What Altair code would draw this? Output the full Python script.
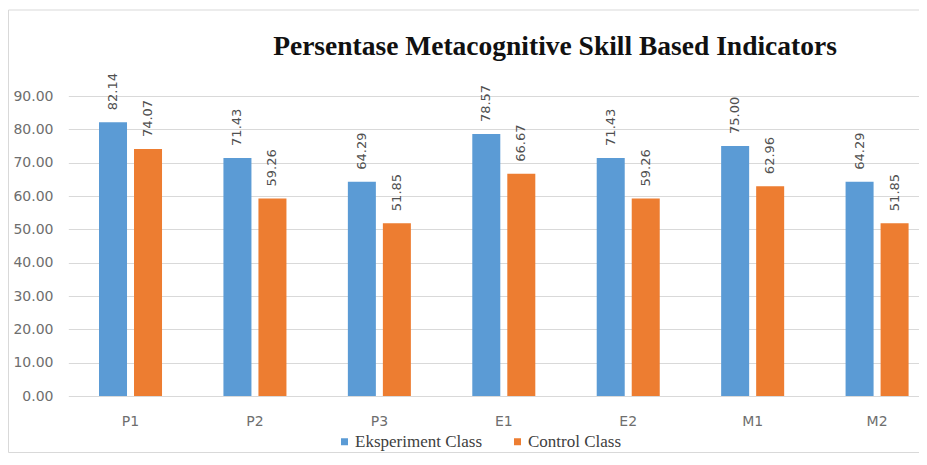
import altair as alt
import pandas as pd

categories = ["P1", "P2", "P3", "E1", "E2", "M1", "M2"]
series = ["Eksperiment Class", "Control Class"]
eksperiment = [82.14, 71.43, 64.29, 78.57, 71.43, 75.00, 64.29]
control = [74.07, 59.26, 51.85, 66.67, 59.26, 62.96, 51.85]
y_ticks = [0, 10, 20, 30, 40, 50, 60, 70, 80, 90]
colors = ["#5B9BD5", "#ED7D31"]
title_text = ["Persentase Metacognitive Skill Based Indicators"]

rows = []
for c, e, k in zip(categories, eksperiment, control):
    rows.append({"cat": c, "series": series[0], "value": e})
    rows.append({"cat": c, "series": series[1], "value": k})
df = pd.DataFrame(rows)

W, H = 851, 300

x_enc = alt.X(
    "cat:N", sort=categories,
    scale=alt.Scale(range=[0.3, 871.3], paddingInner=0, paddingOuter=0),
    axis=alt.Axis(title=None, labelAngle=0, ticks=False, domain=False, grid=False,
                  labelFont="DejaVu Sans", labelFontSize=14, labelColor="#6e6e6e",
                  labelPadding=18),
)
xoff_enc = alt.XOffset("series:N", sort=series,
                       scale=alt.Scale(paddingInner=0.2, paddingOuter=0.877))
y_enc = alt.Y(
    "value:Q", scale=alt.Scale(domain=[0, 90], nice=False),
    axis=alt.Axis(title=None, values=y_ticks, format=".2f", ticks=False, domain=False,
                  grid=True, gridColor="#d9d9d9", gridWidth=1,
                  labelFont="DejaVu Sans", labelFontSize=14, labelColor="#6e6e6e",
                  labelPadding=15),
)

base = alt.Chart(df).encode(x=x_enc, xOffset=xoff_enc, y=y_enc)

bars = base.mark_bar().encode(
    color=alt.Color(
        "series:N", sort=series,
        scale=alt.Scale(domain=series, range=colors),
        legend=alt.Legend(title=None, orient="none", direction="horizontal",
                          legendX=268, legendY=337, symbolType="square",
                          symbolSize=49, symbolStrokeWidth=0,
                          labelFont="Liberation Serif", labelFontSize=17,
                          labelColor="#404040", labelOffset=2, columnPadding=26),
    )
)

labels = base.mark_text(angle=270, align="left", baseline="middle", dx=12,
                        font="DejaVu Sans", fontSize=13, color="#505050").encode(
    text=alt.Text("value:Q", format=".2f")
)

tdf = pd.DataFrame({"t": title_text})
title = alt.Chart(tdf).mark_text(font="Liberation Serif", fontSize=27.5, fontWeight="bold",
                                 color="#111111", align="center",
                                 baseline="alphabetic").encode(
    text="t:N", x=alt.value(487), y=alt.value(-41))

fdf = pd.DataFrame({"k": [0]})
frame_left = alt.Chart(fdf).mark_rule(color="#d9d9d9", strokeWidth=1).encode(
    x=alt.value(-59.5), y=alt.value(-86), y2=alt.value(356.5))
frame_top = alt.Chart(fdf).mark_rule(color="#d9d9d9", strokeWidth=1).encode(
    x=alt.value(-59.5), x2=alt.value(W), y=alt.value(-86))
frame_bottom = alt.Chart(fdf).mark_rule(color="#d9d9d9", strokeWidth=1).encode(
    x=alt.value(-59.5), x2=alt.value(W), y=alt.value(356.5))

chart = alt.layer(frame_left, frame_top, frame_bottom, bars, labels, title).properties(
    width=W, height=H,
    autosize=alt.AutoSizeParams(type="none"),
    padding={"left": 60, "top": 88, "right": 0, "bottom": 57},
).configure_view(stroke=None, strokeWidth=0).configure_legend(
    labelFont="Liberation Serif")

chart.save("out.html", embed_options={"renderer": "svg", "actions": False})
